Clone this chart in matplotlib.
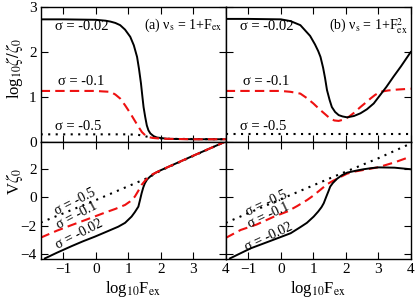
import matplotlib
matplotlib.use('Agg')
import matplotlib.pyplot as plt
import numpy as np

plt.rcParams['font.family'] = ['Liberation Serif', 'DejaVu Serif']
plt.rcParams['mathtext.fontset'] = 'stix'

# ---- panel (a) top: log10 zeta/zeta0 ----
xa_t_002 = [-1.7, -1.0, 0.0, 0.3, 0.45, 0.6, 0.75, 0.9, 1.06, 1.17, 1.27, 1.33, 1.39, 1.43, 1.47,
            1.52, 1.57, 1.62, 1.68, 1.78, 1.88, 2.2, 3.0, 4.0]
ya_t_002 = [2.73, 2.73, 2.72, 2.70, 2.68, 2.65, 2.6, 2.5, 2.34, 2.15, 1.89, 1.62, 1.30, 1.03, 0.77,
            0.55, 0.36, 0.25, 0.18, 0.12, 0.09, 0.06, 0.05, 0.05]
xa_t_01 = [-1.7, -1.0, 0.0, 0.2, 0.45, 0.6, 0.75, 0.9, 1.0, 1.12, 1.22, 1.32, 1.42, 1.52, 1.62,
           1.75, 1.9, 2.2, 3.0, 4.0]
ya_t_01 = [1.13, 1.13, 1.13, 1.12, 1.11, 1.05, 0.96, 0.81, 0.70, 0.56, 0.44, 0.32, 0.21, 0.14, 0.1,
           0.08, 0.07, 0.06, 0.05, 0.05]
xa_t_05 = [-1.7, 1.0, 1.3, 1.5, 1.7, 1.9, 2.2, 4.0]
ya_t_05 = [0.16, 0.16, 0.15, 0.12, 0.09, 0.07, 0.06, 0.05]

# ---- panel (b) top ----
xb_t_002 = [-1.7, -1.0, 0.0, 0.3, 0.6, 0.9, 1.05, 1.15, 1.22, 1.3, 1.36, 1.42, 1.5, 1.57, 1.67,
            1.78, 1.9, 2.04, 2.25, 2.45, 2.65, 2.86, 3.06, 3.25, 3.47, 3.7, 4.0]
yb_t_002 = [2.74, 2.74, 2.73, 2.69, 2.6, 2.36, 2.17, 2.02, 1.89, 1.65, 1.42, 1.15, 0.93, 0.77, 0.66,
            0.59, 0.56, 0.54, 0.57, 0.63, 0.72, 0.85, 1.04, 1.22, 1.45, 1.68, 2.0]
xb_t_01 = [-1.7, -1.0, 0.0, 0.3, 0.6, 0.8, 1.0, 1.22, 1.38, 1.52, 1.65, 1.78, 1.93, 2.09, 2.25,
           2.45, 2.6, 2.76, 2.9, 3.06, 3.3, 3.57, 4.0]
yb_t_01 = [1.13, 1.13, 1.13, 1.11, 1.07, 0.97, 0.85, 0.70, 0.6, 0.51, 0.47, 0.46, 0.49, 0.55, 0.64,
           0.77, 0.86, 0.96, 1.04, 1.11, 1.14, 1.16, 1.18]
xb_t_05 = [-1.7, 4.0]
yb_t_05 = [0.16, 0.16]

# ---- panel (a) bottom: V zeta0 ----
xa_b_002 = [-1.57, -1.2, -0.74, -0.4, -0.03, 0.3, 0.69, 0.9, 1.1, 1.2, 1.31, 1.36, 1.41, 1.46,
            1.51, 1.58, 1.67, 1.77, 1.87, 2.0, 3.0, 4.0]
ya_b_002 = [-4.3, -3.9, -3.43, -3.1, -2.77, -2.45, -2.07, -1.8, -1.36, -1.05, -0.66, -0.2, 0.28, 0.68,
            0.98, 1.25, 1.45, 1.62, 1.76, 1.9, 2.92, 3.92]
xa_b_01 = [-1.7, -1.2, -0.74, -0.3, 0.28, 0.6, 0.9, 1.05, 1.2, 1.3, 1.41, 1.52, 1.62, 1.75, 2.0,
           3.0, 4.0]
ya_b_01 = [-2.84, -2.35, -1.95, -1.58, -1.08, -0.82, -0.54, -0.3, 0.04, 0.42, 0.87, 1.18, 1.41, 1.62,
           1.9, 2.92, 3.92]
xa_b_05 = [-1.7, 0.0, 1.0, 1.62, 2.0, 3.0, 4.0]
ya_b_05 = [-1.78, -0.2, 0.78, 1.38, 1.88, 2.9, 3.92]

# ---- panel (b) bottom ----
xb_b_002 = [-1.57, -0.93, -0.3, 0.3, 0.6, 0.8, 1.01, 1.15, 1.25, 1.32, 1.4, 1.47, 1.52, 1.6, 1.73,
            1.88, 2.04, 2.3, 2.55, 2.8, 3.0, 3.5, 4.0]
yb_b_002 = [-4.3, -3.59, -3.05, -2.53, -2.1, -1.8, -1.36, -1.0, -0.7, -0.42, 0.05, 0.45, 0.75, 1.0, 1.3,
            1.55, 1.73, 1.86, 1.97, 2.05, 2.1, 2.08, 1.97]
xb_b_01 = [-1.7, -1.24, -0.75, -0.21, 0.2, 0.5, 0.81, 1.0, 1.15, 1.3, 1.45, 1.6, 1.75, 1.9, 2.04,
           2.3, 2.55, 3.0, 3.5, 4.0]
yb_b_01 = [-2.86, -2.3, -1.92, -1.36, -1.0, -0.62, -0.19, 0.12, 0.4, 0.68, 0.95, 1.15, 1.32, 1.5, 1.66,
           1.82, 1.92, 2.11, 2.45, 2.86]
xb_b_05 = [-1.7, 0.3, 1.63, 3.0, 4.0]
yb_b_05 = [-1.8, 0.16, 1.45, 2.74, 3.78]

sigma_labels = ['σ = -0.02', 'σ = -0.1', 'σ = -0.5']
x_ticks = [-1, 0, 1, 2, 3, 4]

fig = plt.figure(figsize=(4.15, 3.03), dpi=100)
L1, L2, W = 0.098, 0.5439, 0.4458
ax_at = fig.add_axes([L1, 0.533, W, 0.443])
ax_bt = fig.add_axes([L2, 0.533, W, 0.443])
ax_ab = fig.add_axes([L1, 0.1462, W, 0.3868])
ax_bb = fig.add_axes([L2, 0.1462, W, 0.3868])

solid = dict(color='black', lw=1.4, ls='-')
dash = dict(color='#ee1111', lw=1.5, dashes=(4.5, 2.5))
dot = dict(color='black', lw=1.5, ls=(0, (1, 2.6)))

ax_at.plot(xa_t_05, ya_t_05, **dot)
ax_at.plot(xa_t_002, ya_t_002, **solid)
ax_at.plot(xa_t_01, ya_t_01, **dash)
ax_bt.plot(xb_t_05, yb_t_05, **dot)
ax_bt.plot(xb_t_01, yb_t_01, **dash)
ax_bt.plot(xb_t_002, yb_t_002, **solid)
ax_ab.plot(xa_b_05, ya_b_05, **dot)
ax_ab.plot(xa_b_002, ya_b_002, **solid)
ax_ab.plot(xa_b_01, ya_b_01, **dash)
ax_bb.plot(xb_b_05, yb_b_05, **dot)
ax_bb.plot(xb_b_01, yb_b_01, **dash)
ax_bb.plot(xb_b_002, yb_b_002, **solid)

for ax in [ax_at, ax_bt, ax_ab, ax_bb]:
    ax.set_xlim(-1.7, 4.0)
    ax.set_xticks(x_ticks)
    ax.tick_params(direction='in', top=True, right=True, length=5, width=0.8,
                   labelsize=11, pad=3)
    for s in ax.spines.values():
        s.set_linewidth(1.0)

for ax in [ax_at, ax_bt]:
    ax.set_ylim(0, 3)
    ax.set_yticks([0, 1, 2, 3])
    ax.tick_params(labelbottom=False)
for ax in [ax_ab, ax_bb]:
    ax.set_ylim(-4.32, 3.92)
    ax.set_yticks([-4, -2, 0, 2])
    ax.set_xlabel(r'log$_{10}$F$_\mathrm{ex}$', fontsize=12, labelpad=2)
ax_bt.tick_params(labelleft=False)
ax_bb.tick_params(labelleft=False)

# sigma labels, top panels
for ax in [ax_at, ax_bt]:
    ax.text(-1.25, 2.56, sigma_labels[0], fontsize=10.5, va='center')
    ax.text(-1.18, 1.33, sigma_labels[1], fontsize=10.5, va='center')
    ax.text(-1.25, 0.33, sigma_labels[2], fontsize=10.5, va='center')

ax_at.text(3.9, 2.6, r'(a) ν$_\mathrm{s}$ = 1+F$_\mathrm{ex}$', fontsize=10,
           ha='right', va='center')
ax_bt.text(3.92, 2.6, r'(b) ν$_\mathrm{s}$ = 1+F$_\mathrm{ex}^2$', fontsize=10,
           ha='right', va='center')

# sigma labels, bottom panels (rotated along the lines)
ax_ab.text(-0.63, -0.31, sigma_labels[2], fontsize=10, rotation=27, ha='center', va='center')
ax_ab.text(-0.58, -1.25, sigma_labels[1], fontsize=10, rotation=28, ha='center', va='center')
ax_ab.text(-0.51, -2.6, sigma_labels[0], fontsize=10, rotation=27, ha='center', va='center')
ax_bb.text(-0.43, -0.42, sigma_labels[2], fontsize=10, rotation=25, ha='center', va='center')
ax_bb.text(-0.38, -1.25, sigma_labels[1], fontsize=10, rotation=25, ha='center', va='center')
ax_bb.text(-0.38, -2.77, sigma_labels[0], fontsize=10, rotation=25, ha='center', va='center')

fig.text(0.034, 0.775, r'log$_{10}\zeta/\zeta_0$', rotation=90, fontsize=12,
         ha='center', va='center')
fig.text(0.034, 0.40, r'V$\zeta_0$', rotation=90, fontsize=12,
         ha='center', va='center')

fig.savefig('out.png', dpi=100)
